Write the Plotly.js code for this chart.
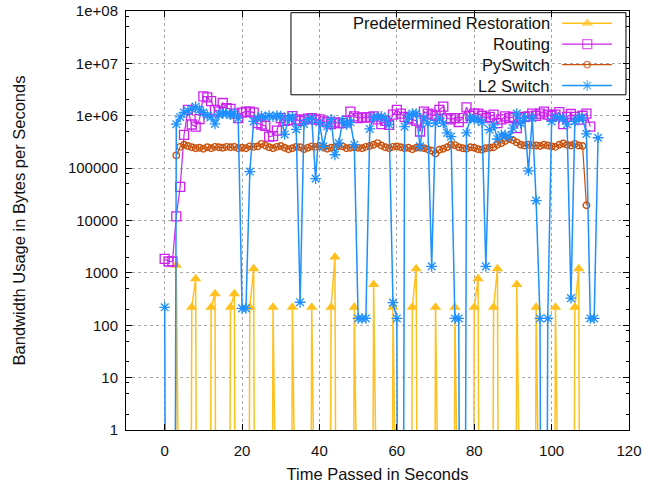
<!DOCTYPE html>
<html><head><meta charset="utf-8">
<script src="https://cdn.plot.ly/plotly-3.0.1.min.js"></script>
<style>html,body{margin:0;padding:0;background:#fff}#chart{width:658px;height:488px}</style>
</head><body><div id="chart"></div>
<script>
// ---- data (bytes per second, sampled each second) ----
const seconds = [
  0,1,2,3,4,5,6,7,8,9,10,11,12,13,14,15,16,17,18,19,
  20,21,22,23,24,25,26,27,28,29,30,31,32,33,34,35,36,37,38,39,
  40,41,42,43,44,45,46,47,48,49,50,51,52,53,54,55,56,57,58,59,
  60,61,62,63,64,65,66,67,68,69,70,71,72,73,74,75,76,77,78,79,
  80,81,82,83,84,85,86,87,88,89,90,91,92,93,94,95,96,97,98,99,
  100,101,102,103,104,105,106,107,108,109,110,111,112
];
const restoration = [
  0,0,0,1400,0,0,0,220,770,0,
  0,0,220,400,0,0,0,220,400,0,
  0,0,220,1200,0,0,0,0,220,0,
  0,0,0,220,0,0,0,0,220,0,
  0,0,0,220,2000,0,0,0,0,220,
  0,0,0,0,600,0,0,0,0,220,
  0,0,0,0,220,1200,0,0,0,0,
  220,0,0,0,0,220,0,0,0,0,
  220,770,0,0,0,220,1200,0,0,0,
  0,600,0,0,0,0,220,0,0,0,
  0,220,0,0,0,0,220,1200,0,0,
  0,0,0
];
const routing = [
  1850,1650,1650,12000,44000,430000,1300000,680000,620000,860000,
  2350000,2250000,1900000,1300000,1200000,1750000,1400000,1350000,1100000,900000,
  1150000,1200000,1200000,1150000,720000,680000,640000,400000,410000,520000,
  900000,800000,820000,980000,850000,800000,840000,880000,900000,840000,
  850000,780000,750000,690000,750000,720000,720000,800000,1200000,970000,
  900000,930000,930000,930000,970000,850000,690000,800000,670000,1050000,
  1300000,1100000,950000,900000,850000,800000,500000,1200000,1100000,1050000,
  1000000,1300000,1500000,900000,850000,900000,760000,900000,1450000,1000000,
  1100000,1100000,1000000,900000,950000,1050000,720000,850000,970000,900000,
  950000,580000,900000,950000,970000,1100000,1000000,1100000,1200000,1050000,
  1000000,1050000,1170000,690000,950000,1080000,950000,840000,1000000,1100000,
  620000
];
const pyswitch = [
  null,null,null,175000,255000,280000,265000,250000,240000,245000,
  235000,250000,240000,255000,250000,245000,255000,250000,255000,240000,
  245000,240000,260000,255000,260000,290000,270000,250000,240000,255000,
  265000,245000,230000,240000,255000,250000,230000,245000,260000,255000,
  265000,250000,235000,245000,250000,265000,260000,240000,245000,250000,
  245000,240000,255000,265000,280000,300000,270000,250000,240000,255000,
  260000,250000,240000,245000,230000,245000,250000,240000,230000,215000,
  190000,225000,235000,250000,280000,275000,250000,240000,235000,250000,
  245000,230000,225000,240000,245000,250000,280000,300000,330000,360000,
  340000,310000,280000,270000,280000,275000,270000,265000,280000,270000,
  260000,255000,280000,295000,280000,270000,290000,270000,265000,19500
];
const l2switch = [
  220,0,0,690000,950000,1150000,1250000,1350000,1500000,1300000,
  1150000,1000000,950000,700000,1050000,1100000,1100000,1050000,1100000,900000,
  210,210,86000,780000,900000,980000,950000,1000000,960000,1000000,
  980000,440000,900000,950000,550000,275,700000,850000,900000,63000,
  750000,260000,630000,850000,180000,300000,800000,680000,750000,280000,
  135,135,135,560000,950000,950000,970000,900000,680000,270,
  135,0,620000,950000,1100000,1100000,260000,900000,720000,1330,
  720000,900000,720000,470000,400000,135,135,0,470000,900000,
  850000,840000,750000,1330,540000,670000,360000,430000,430000,400000,
  580000,1100000,720000,900000,89000,900000,24000,135,0,135,
  780000,970000,900000,900000,690000,330,780000,900000,900000,450000,
  135,135,380000
];
const seriesNames = ["Predetermined Restoration","Routing","PySwitch","L2 Switch"];
const xTickVals = [0,20,40,60,80,100,120];
const yTickVals = [1,10,100,1000,10000,100000,1000000,10000000,100000000];
const yTickText = ["1","10","100","1000","10000","100000","1e+06","1e+07","1e+08"];
const yMinorMantissa = [2,5,8];

// ---- styles ----
const FONT = '"Liberation Sans", Arial, sans-serif';
const styles = [
  {color:'#ffc020', lw:1.5, sym:'triangle-up', size:10, mlw:0},
  {color:'#cc22ee', lw:1.2, sym:'square-open', size:9, mlw:1.3},
  {color:'#c8500a', lw:1.2, sym:'circle-open', size:6.5, mlw:1.4},
  {color:'#1e90ff', lw:1.5, sym:'asterisk-open', size:9, mlw:1.3}
];
// zero readings cannot sit on a log axis: push them far below the visible range
const floorZero = arr => arr.map(v => v === 0 ? 1e-20 : v);
const xs = n => seconds.slice(0, n);
const seriesData = [restoration, routing, pyswitch, l2switch];

const traces = seriesData.map((vals, i) => ({
  type:'scatter', mode:'lines+markers', name:seriesNames[i],
  x: xs(vals.length), y: floorZero(vals),
  line:{color:styles[i].color, width:styles[i].lw},
  marker:{symbol:styles[i].sym, size:styles[i].size, color:styles[i].color,
          line:{color:styles[i].color, width:styles[i].mlw}},
  connectgaps:false, cliponaxis:true, hoverinfo:'skip'
}));

// ---- legend (gnuplot style: text left, sample right) on an overlay frame ----
const legRowsY = [0.971, 0.921, 0.872, 0.822];
const legLineX = [0.867, 0.917, 0.966];
seriesNames.forEach((nm, i) => {
  traces.push({
    type:'scatter', mode:'lines+markers', xaxis:'x2', yaxis:'y2', showlegend:false,
    x: legLineX, y: [legRowsY[i], legRowsY[i], legRowsY[i]],
    line:{color:styles[i].color, width:styles[i].lw},
    marker:{symbol:styles[i].sym, size:[0, styles[i].size, 0], color:styles[i].color,
            line:{color:styles[i].color, width:styles[i].mlw}},
    hoverinfo:'skip'
  });
});
const annotations = seriesNames.map((nm, i) => ({
  xref:'paper', yref:'paper', x:0.846, y:legRowsY[i], xanchor:'right', yanchor:'middle',
  text:nm, showarrow:false, font:{family:FONT, size:16.5, color:'#111'}
}));

const minorVals = [];
for (let d = 0; d < 8; d++) yMinorMantissa.forEach(m => minorVals.push(m * Math.pow(10, d)));

const layout = {
  width:658, height:488,
  margin:{l:126, r:29, t:11, b:58, pad:0},
  paper_bgcolor:'#fff', plot_bgcolor:'#fff',
  font:{family:FONT, size:15, color:'#111'},
  showlegend:false,
  xaxis:{
    range:[-10,120], tickmode:'array', tickvals:xTickVals,
    ticks:'inside', ticklen:6, tickwidth:1, tickcolor:'#000',
    showline:true, linecolor:'#000', linewidth:1, mirror:'allticks',
    showgrid:true, gridcolor:'#a8a8a8', griddash:'dot', gridwidth:1,
    zeroline:false, ticklabelstandoff:7, automargin:false,
    tickfont:{family:FONT, size:15, color:'#111'},
    title:{text:'Time Passed in Seconds', standoff:10, font:{family:FONT, size:16.5, color:'#111'}}
  },
  yaxis:{
    type:'log', range:[0,8], tickmode:'array', tickvals:yTickVals, ticktext:yTickText,
    ticks:'inside', ticklen:6, tickwidth:1, tickcolor:'#000',
    minor:{tickmode:'array', tickvals:minorVals, ticks:'inside', ticklen:3, tickcolor:'#000', showgrid:false},
    showline:true, linecolor:'#000', linewidth:1, mirror:'allticks',
    showgrid:true, gridcolor:'#a8a8a8', griddash:'dot', gridwidth:1,
    zeroline:false, ticklabelstandoff:4, automargin:false,
    tickfont:{family:FONT, size:15, color:'#111'},
    title:{text:'Bandwidth Usage in Bytes per Seconds', standoff:38, font:{family:FONT, size:16.5, color:'#111'}}
  },
  xaxis2:{overlaying:'x', anchor:'y2', range:[0,1], visible:false, fixedrange:true},
  yaxis2:{overlaying:'y', anchor:'x2', range:[0,1], visible:false, fixedrange:true},
  shapes:[{type:'rect', xref:'paper', yref:'paper', x0:0.328, x1:0.994, y0:0.80, y1:0.996,
           line:{color:'#000', width:1}, fillcolor:'#fff', layer:'between'}],
  annotations:annotations
};

Plotly.newPlot('chart', traces, layout, {displayModeBar:false, staticPlot:true});
</script>
</body></html>
